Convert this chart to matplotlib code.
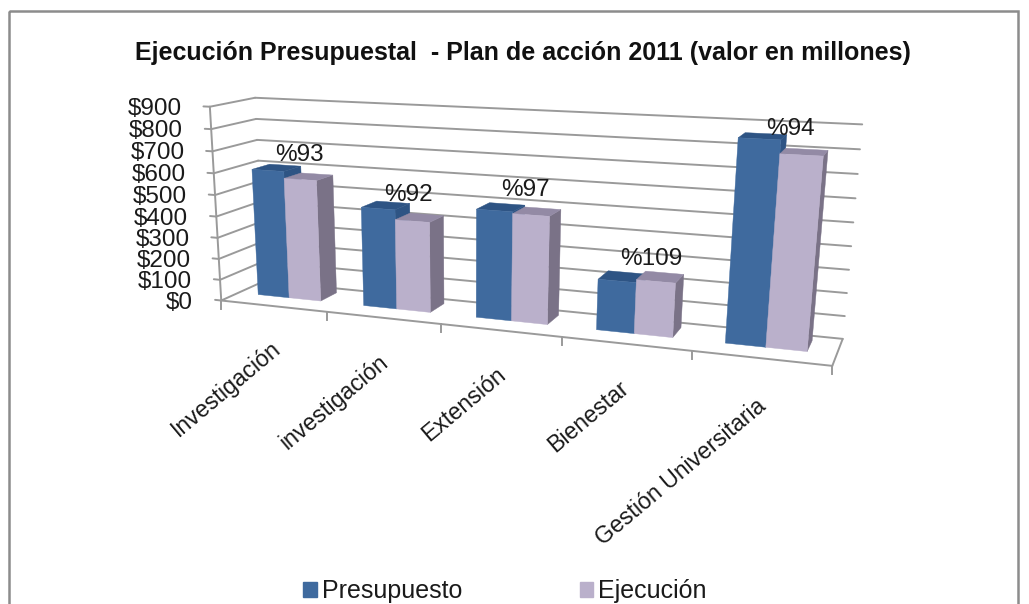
import numpy as np
import matplotlib
matplotlib.use("Agg")
import matplotlib.pyplot as plt
from matplotlib.patches import Patch, Rectangle

categories = ["Investigación", "investigación", "Extensión", "Bienestar", "Gestión Universitaria"]
presupuesto = [600, 460, 490, 225, 855]
ejecucion = [568, 415, 482, 238, 800]
pct_labels = ["%93", "%92", "%97", "%109", "%94"]
y_ticks = [0, 100, 200, 300, 400, 500, 600, 700, 800, 900]
title = "Ejecución Presupuestal  - Plan de acción 2011 (valor en millones)"

# layout nudges (pixels), separate from the data
pct_offset = [(7, 0), (6, 2), (7, -5), (10, -2), (7, 6)]
cat_offset = [(-3, 31), (-5, 33), (-5, 33), (-8, 33), (-5, 36)]

plt.rcParams['font.family'] = ['Liberation Sans', 'DejaVu Sans']

# Perspective camera: world (category, depth, value) -> image, calibrated by DLT
world = np.array([(0,0,0),(1,0,0),(2,0,0),(3,0,0),(4,0,0),(5,0,0),(0,0,900),(0,1,0),(0,1,900),(5,1,0),(5,1,900)],float)
image = np.array([(223,298),(328,312),(441,325),(561,338),(692,351),(833,366),(208,107),(262,283),(257,97),(843,337),(862,125)],float)
A = []
for (X,Y,Z),(u,v) in zip(world,image):
    Z2 = Z/900
    A.append([X,Y,Z2,1,0,0,0,0,-u*X,-u*Y,-u*Z2,-u])
    A.append([0,0,0,0,X,Y,Z2,1,-v*X,-v*Y,-v*Z2,-v])
P = np.linalg.svd(np.array(A))[2][-1].reshape(3,4)

def proj(x, d, z):
    h = P @ np.array([x, d, z/900, 1.0])
    return h[0]/h[2], h[1]/h[2]

fig = plt.figure(figsize=(10.29, 6.04), dpi=100)
ax = fig.add_axes([0, 0, 1, 1])
ax.set_xlim(0, 1029); ax.set_ylim(604, 0); ax.axis("off")

ax.add_patch(Rectangle((9, 11), 1009, 620, fill=False, ec="#8c8c8c", lw=1.8))
ax.text(523, 53, title, ha="center", va="center", fontsize=18, fontweight="bold", color="#111111")

GRID = "#9a9a9a"
def line(a, b, lw=1.4):
    pa, pb = proj(*a), proj(*b)
    ax.plot([pa[0], pb[0]], [pa[1], pb[1]], color=GRID, lw=lw, solid_capstyle="round", zorder=1)

n = len(categories)
top = y_ticks[-1]
for t in y_ticks:
    line((0,1,t), (n,1,t))
    line((0,0,t), (0,1,t))
    line((-0.06,0,t), (0,0,t))
    px, py = proj(0,0,t)
    ax.text(px-28, py+2, f"${t}", ha="right", va="center", fontsize=17.5, color="#1a1a1a")
line((0,0,0), (0,0,top))
line((0,0,0), (n,0,0))
line((n,0,0), (n,1,0))
for i in range(n+1):
    px, py = proj(i,0,0)
    ax.plot([px, px], [py, py+8], color=GRID, lw=1.4, zorder=1)

BW, GAP0, D0, D1 = 0.30, 0.19, 0.4, 0.81
def bar(x0, x1, v, cf, ct, cs, z):
    side = [(x1,D0,0),(x1,D1,0),(x1,D1,v),(x1,D0,v)]
    topf = [(x0,D0,v),(x1,D0,v),(x1,D1,v),(x0,D1,v)]
    front = [(x0,D0,0),(x1,D0,0),(x1,D0,v),(x0,D0,v)]
    for pts, c, dz in ((side,cs,0),(topf,ct,0.1),(front,cf,0.2)):
        xy = [proj(*p) for p in pts]
        ax.fill([q[0] for q in xy], [q[1] for q in xy], color=c, lw=0.3, zorder=z+dz)

for i in range(n):
    bar(i+GAP0, i+GAP0+BW, presupuesto[i], "#3F6A9E", "#2E5484", "#2E5484", 3+2*i)
    bar(i+GAP0+BW, i+GAP0+2*BW, ejecucion[i], "#BAB0CB", "#938AA5", "#7A7287", 4+2*i)
    mx, my = proj(i+GAP0+BW, 0.6, max(presupuesto[i], ejecucion[i]))
    ax.text(mx+pct_offset[i][0], my-14+pct_offset[i][1], pct_labels[i], ha="center", va="center",
            fontsize=17.5, color="#1a1a1a", zorder=30)
    lx, ly = proj(i+0.5, 0, 0)
    ax.text(lx+cat_offset[i][0], ly+cat_offset[i][1], categories[i], rotation=40, rotation_mode="anchor",
            ha="right", va="top", fontsize=16.7, color="#1a1a1a")

handles = [Patch(color="#3F6A9E", label="Presupuesto"), Patch(color="#BAB0CB", label="Ejecución")]
fig.legend(handles=handles, loc="center", bbox_to_anchor=(505/1029, 1-591/604), ncols=2, frameon=False,
           fontsize=18, handlelength=0.55, handleheight=0.55, handletextpad=0.2, columnspacing=4.7, labelcolor="#1a1a1a")

fig.savefig("out.png", dpi=100)
